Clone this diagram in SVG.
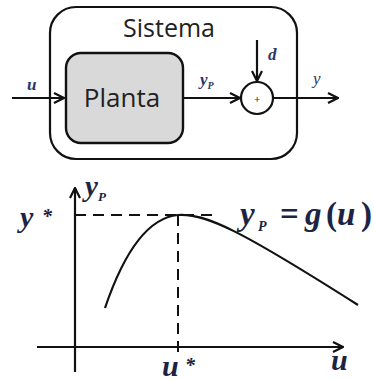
<svg xmlns="http://www.w3.org/2000/svg" width="374" height="381" viewBox="0 0 374 381">
<style>
.ln{stroke:#111;stroke-width:2.2;fill:none}
.dash{stroke:#111;stroke-width:2;fill:none;stroke-dasharray:11,7}
.lbl{font-family:"Liberation Serif",serif;font-style:italic;fill:#2b3566}
.glbl{font-family:"Liberation Serif",serif;font-style:italic;font-weight:bold;fill:#1c2444}
.up{font-style:normal}
.sans{font-family:"Open Sans","DejaVu Sans",sans-serif;fill:#222}
</style>
<defs>
<marker id="ah2" viewBox="0 0 12 12" refX="11" refY="6" markerWidth="12" markerHeight="12" orient="auto" markerUnits="userSpaceOnUse">
<path d="M1,1 L11,6 L1,11" fill="none" stroke="#111" stroke-width="2.2"/>
</marker>
</defs>
<rect width="374" height="381" fill="#fff"/>
<g id="sistema">
<rect x="50" y="7" width="247" height="152" rx="26" class="ln"/>
<text x="169" y="37" class="sans" font-size="25" text-anchor="middle">Sistema</text>
</g>
<g id="planta">
<rect x="66" y="53" width="117" height="90" rx="15" fill="#d9d9d9" stroke="#111" stroke-width="2.4"/>
<text x="122" y="107" class="sans" font-size="26" text-anchor="middle">Planta</text>
</g>
<g id="sum">
<circle cx="257" cy="98" r="16" class="ln"/>
<text x="257" y="103" class="sans" font-size="10" text-anchor="middle">+</text>
</g>
<g id="connectors">
<line x1="12" y1="98" x2="64" y2="98" class="ln" marker-end="url(#ah2)"/>
<line x1="183" y1="98" x2="240" y2="98" class="ln" marker-end="url(#ah2)"/>
<line x1="257" y1="40" x2="257" y2="81" class="ln" marker-end="url(#ah2)"/>
<line x1="273" y1="98" x2="338" y2="98" class="ln" marker-end="url(#ah2)"/>
</g>
<g id="labels-top">
<text x="27" y="90" class="lbl" font-size="17" font-weight="bold">u</text>
<text x="200" y="85" class="lbl" font-size="17" font-weight="bold">y<tspan font-size="10" dy="4">P</tspan></text>
<text x="268" y="60" class="lbl" font-size="17" font-weight="bold">d</text>
<text x="313" y="84" class="lbl" font-size="17">y</text>
</g>
<g id="graph">
<line x1="75" y1="372" x2="75" y2="188" class="ln" marker-end="url(#ah2)"/>
<line x1="37" y1="347" x2="343" y2="347" class="ln" marker-end="url(#ah2)"/>
<line x1="75" y1="215" x2="217" y2="215" class="dash"/>
<line x1="178" y1="215" x2="178" y2="352" class="dash"/>
<path d="M105,308 C122,258 145,218 178,215 C205,213 240,230 358,305" class="ln" stroke-width="2.5"/>
<text x="85" y="196" class="glbl" font-size="29">y<tspan font-size="13" dy="5">P</tspan></text>
<text x="20" y="227" class="glbl" font-size="30">y</text>
<text x="42" y="223" class="glbl" font-size="20" font-style="normal">*</text>
<text y="225" class="glbl" font-size="33"><tspan x="240">y</tspan><tspan x="258" font-size="14" dy="6">P</tspan><tspan x="280" dy="-6" class="up">=</tspan><tspan x="305">g</tspan><tspan x="326" class="up">(</tspan><tspan x="337">u</tspan><tspan x="361" class="up">)</tspan></text>
<text x="162" y="376" class="glbl" font-size="30">u</text>
<text x="185" y="372" class="glbl" font-size="20" font-style="normal">*</text>
<text x="331" y="370" class="glbl" font-size="30">u</text>
</g>
</svg>
